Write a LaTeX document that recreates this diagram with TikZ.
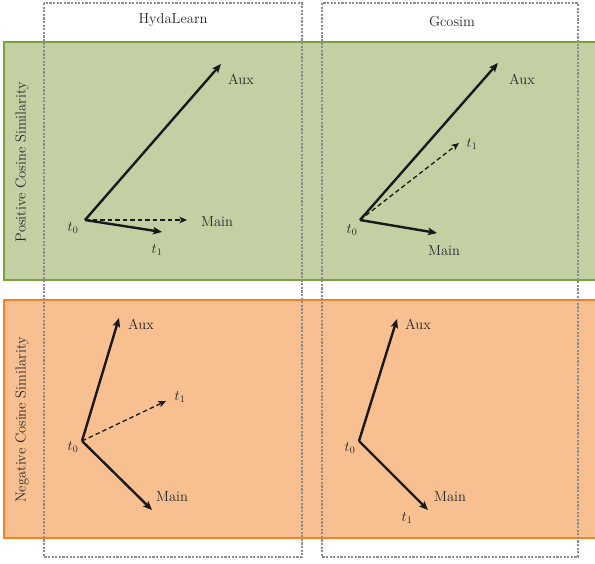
\documentclass[tikz,border=0pt]{standalone}
\usetikzlibrary{positioning,arrows.meta}
\definecolor{posfill}{RGB}{194,208,164}
\definecolor{posline}{RGB}{122,162,62}
\definecolor{negfill}{RGB}{248,191,144}
\definecolor{negline}{RGB}{245,130,40}
\tikzset{every picture/.style={line width=0.75pt}}
\tikzset{
  vec/.style={-{Stealth[length=9pt,width=7.5pt,inset=2pt]},line width=2.4pt,black!90},
  dvec/.style={-{Stealth[length=7.5pt,width=6.5pt,inset=1.8pt]},line width=1.3pt,black!90,dash pattern=on 4.5pt off 3pt},
  methodbox/.style={black!45,line width=1.3pt,dash pattern=on 2.2pt off 1.4pt},
  lbl/.style={font=\fontsize{14.5}{17}\selectfont,inner sep=1pt,black!85}
}

\begin{document}
\begin{tikzpicture}[x=1pt,y=1pt]
	\useasboundingbox (0,0) rectangle (595,563);
	% Baender
	\draw[posline,fill=posfill,line width=2pt] (4,521) rectangle (600,283);
	\draw[negline,fill=negfill,line width=2pt] (4,263) rectangle (600,25);
	\node[lbl,rotate=90] (poslbl) at (22,401) {Positive Cosine Similarity};
	\node[lbl,rotate=90] (neglbl) at (22,143) {Negative Cosine Similarity};
	% Methoden
	\draw[methodbox] (44,560) rectangle (302,6);
	\draw[methodbox] (322,560) rectangle (578,6);
	\node[lbl] (hydatitle) at (173,543) {HydaLearn};
	\node[lbl] (gcotitle) at (452,541) {Gcosim};
	% HydaLearn, positiv
	\coordinate (hp0) at (85,343);
	\coordinate (hpaux) at (221,499);
	\coordinate (hpmain) at (187,343);
	\coordinate (hpt1) at (162,331);
	\draw[vec] (hp0)--(hpaux);
	\draw[dvec] (hp0)--(hpmain);
	\draw[vec] (hp0)--(hpt1);
	\node[lbl] (hpauxl) at (241,484) {Aux};
	\node[lbl] (hpmainl) at (217,341) {Main};
	\node[lbl] (hpt1l) at (157,313) {$t_1$};
	\node[lbl] (hpt0l) at (73,335) {$t_0$};
	% Gcosim, positiv
	\coordinate (gp0) at (360,343);
	\coordinate (gpaux) at (498,500);
	\coordinate (gpt1) at (459,420);
	\coordinate (gpmain) at (437,330);
	\draw[vec] (gp0)--(gpaux);
	\draw[dvec] (gp0)--(gpt1);
	\draw[vec] (gp0)--(gpmain);
	\node[lbl] (gpauxl) at (522,484) {Aux};
	\node[lbl] (gpt1l) at (472,419) {$t_1$};
	\node[lbl] (gpmainl) at (444,312) {Main};
	\node[lbl] (gpt0l) at (352,333) {$t_0$};
	% HydaLearn, negativ
	\coordinate (hn0) at (82,122);
	\coordinate (hnaux) at (119,245);
	\coordinate (hnt1) at (166,162);
	\coordinate (hnmain) at (152,53);
	\draw[vec] (hn0)--(hnaux);
	\draw[dvec] (hn0)--(hnt1);
	\draw[vec] (hn0)--(hnmain);
	\node[lbl] (hnauxl) at (141,239) {Aux};
	\node[lbl] (hnt1l) at (180,166) {$t_1$};
	\node[lbl] (hnmainl) at (172,66) {Main};
	\node[lbl] (hnt0l) at (73,116) {$t_0$};
	% Gcosim, negativ
	\coordinate (gn0) at (359,122);
	\coordinate (gnaux) at (397,244);
	\coordinate (gnmain) at (428,53);
	\draw[vec] (gn0)--(gnaux);
	\draw[vec] (gn0)--(gnmain);
	\node[lbl] (gnauxl) at (418,239) {Aux};
	\node[lbl] (gnmainl) at (450,66) {Main};
	\node[lbl] (gnt1l) at (407,45) {$t_1$};
	\node[lbl] (gnt0l) at (350,115) {$t_0$};
\end{tikzpicture}
\end{document}
